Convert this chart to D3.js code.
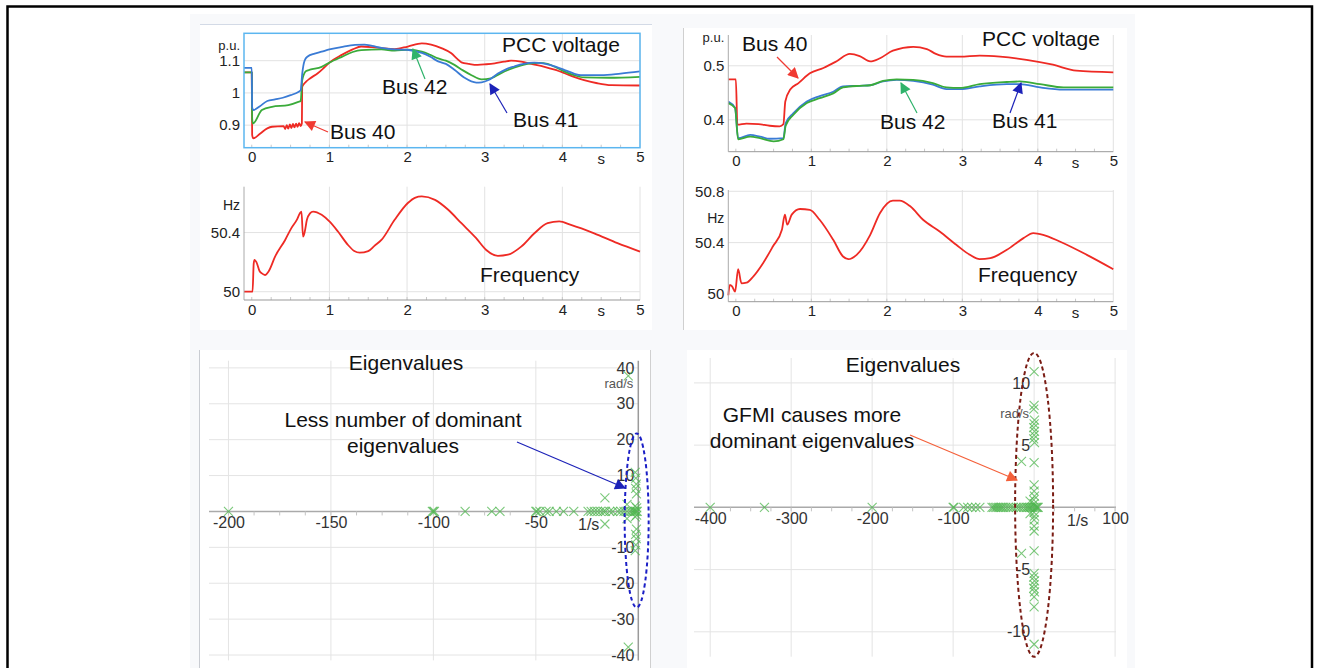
<!DOCTYPE html>
<html>
<head>
<meta charset="utf-8">
<title>PCC voltage, frequency and eigenvalues</title>
<script src="https://d3js.org/d3.v7.min.js"></script>
<style>
  body { margin: 0; background: #fff; }
  text { font-family: "Liberation Sans", Arial, sans-serif; }
</style>
</head>
<body>
<div id="chart"></div>
<script>
// ---- data ----
var timeTicks = [0, 1, 2, 3, 4, 5];

// left case, PCC voltage (p.u.)
var tlBus41 = [[-0.1,1.078],[0,1.078],[0.005,0.955],[0.02,0.947],[0.1,0.958],[0.2,0.975],[0.3,0.98],[0.4,0.985],[0.5,0.993],[0.6,1.003],[0.63,1.008],[0.65,1.06],[0.68,1.1],[0.72,1.113],[0.81,1.122],[0.9,1.128],[1.0,1.135],[1.15,1.142],[1.33,1.149],[1.45,1.15],[1.55,1.146],[1.67,1.14],[1.84,1.135],[2.0,1.134],[2.1,1.13],[2.19,1.124],[2.3,1.112],[2.4,1.098],[2.5,1.09],[2.61,1.072],[2.74,1.047],[2.89,1.032],[2.96,1.033],[3.05,1.04],[3.17,1.06],[3.28,1.074],[3.38,1.082],[3.5,1.09],[3.64,1.094],[3.75,1.092],[3.85,1.086],[4.03,1.071],[4.15,1.06],[4.24,1.055],[4.5,1.055],[4.75,1.06],[5.0,1.067]];
var tlBus42 = [[-0.1,1.064],[0,1.064],[0.005,0.92],[0.015,0.905],[0.13,0.947],[0.26,0.957],[0.47,0.962],[0.6,0.972],[0.63,0.975],[0.65,1.04],[0.7,1.068],[0.75,1.072],[0.9,1.081],[1.0,1.094],[1.16,1.112],[1.3,1.127],[1.41,1.133],[1.67,1.135],[1.84,1.131],[2.01,1.134],[2.19,1.128],[2.3,1.118],[2.4,1.107],[2.5,1.1],[2.61,1.087],[2.72,1.07],[2.83,1.055],[2.96,1.042],[3.08,1.045],[3.2,1.06],[3.3,1.071],[3.45,1.084],[3.6,1.092],[3.7,1.093],[3.81,1.09],[3.92,1.079],[4.03,1.066],[4.15,1.055],[4.28,1.048],[4.6,1.047],[5.0,1.05]];
var tlBus40 = [[-0.1,1.064],[0,1.064],[0.005,0.87],[0.02,0.859],[0.11,0.874],[0.2,0.89],[0.26,0.895],[0.41,0.897],[0.43,0.888],[0.45,0.9],[0.47,0.889],[0.49,0.902],[0.51,0.891],[0.53,0.904],[0.55,0.893],[0.57,0.905],[0.59,0.895],[0.61,0.906],[0.63,0.897],[0.645,0.905],[0.65,1.019],[0.7,1.035],[0.75,1.045],[0.85,1.061],[0.93,1.078],[1.0,1.094],[1.16,1.118],[1.3,1.135],[1.41,1.144],[1.55,1.142],[1.67,1.139],[1.84,1.136],[2.01,1.144],[2.19,1.154],[2.31,1.15],[2.45,1.138],[2.57,1.123],[2.65,1.105],[2.7,1.095],[2.8,1.09],[2.91,1.087],[3.02,1.089],[3.13,1.092],[3.25,1.097],[3.34,1.1],[3.47,1.097],[3.6,1.09],[3.77,1.081],[3.9,1.072],[4.03,1.061],[4.15,1.05],[4.28,1.04],[4.45,1.03],[4.63,1.024],[5.0,1.023]];
var tlVoltTicks = [0.9, 1, 1.1];

// left case, frequency (Hz)
var tlFreq = [[-0.1,50],[0,50],[0.01,50.0],[0.025,50.19],[0.035,50.215],[0.06,50.2],[0.1,50.14],[0.13,50.124],[0.17,50.113],[0.22,50.14],[0.3,50.237],[0.43,50.35],[0.51,50.43],[0.58,50.486],[0.62,50.53],[0.64,50.542],[0.66,50.373],[0.68,50.4],[0.71,50.486],[0.75,50.53],[0.79,50.542],[0.9,50.52],[1.0,50.475],[1.11,50.407],[1.24,50.316],[1.32,50.275],[1.39,50.264],[1.5,50.275],[1.58,50.31],[1.67,50.35],[1.84,50.486],[2.01,50.6],[2.1,50.635],[2.19,50.644],[2.36,50.621],[2.53,50.554],[2.7,50.463],[2.89,50.362],[3.02,50.282],[3.17,50.242],[3.3,50.25],[3.47,50.305],[3.64,50.395],[3.81,50.463],[3.96,50.475],[4.11,50.452],[4.41,50.395],[4.71,50.328],[5.0,50.271]];
var tlFreqTicks = [50, 50.4];

// right case, PCC voltage (p.u.)
var trBus40 = [[-0.1,0.475],[0.0,0.475],[0.02,0.391],[0.14,0.393],[0.3,0.392],[0.45,0.389],[0.58,0.388],[0.63,0.392],[0.655,0.434],[0.72,0.456],[0.83,0.468],[0.98,0.486],[1.16,0.496],[1.33,0.508],[1.51,0.522],[1.64,0.518],[1.78,0.508],[1.91,0.514],[2.08,0.528],[2.35,0.535],[2.53,0.531],[2.65,0.522],[2.79,0.517],[2.97,0.517],[3.23,0.519],[3.5,0.517],[3.85,0.511],[4.2,0.502],[4.51,0.491],[5.0,0.488]];
var trBus41 = [[-0.1,0.434],[-0.01,0.422],[0.03,0.366],[0.19,0.372],[0.32,0.369],[0.45,0.365],[0.63,0.366],[0.66,0.394],[0.76,0.412],[0.94,0.434],[1.11,0.444],[1.29,0.452],[1.42,0.462],[1.64,0.463],[1.78,0.464],[1.95,0.471],[2.13,0.474],[2.35,0.472],[2.61,0.465],[2.79,0.457],[2.97,0.457],[3.23,0.462],[3.59,0.466],[3.76,0.466],[4.03,0.46],[4.34,0.456],[5.0,0.456]];
var trBus42 = [[-0.1,0.431],[-0.01,0.422],[0.03,0.364],[0.19,0.369],[0.32,0.366],[0.5,0.36],[0.63,0.364],[0.66,0.389],[0.76,0.409],[0.94,0.431],[1.11,0.44],[1.29,0.449],[1.42,0.46],[1.64,0.463],[1.78,0.464],[1.95,0.472],[2.13,0.475],[2.35,0.474],[2.61,0.468],[2.79,0.46],[2.97,0.459],[3.23,0.466],[3.59,0.47],[3.76,0.471],[4.03,0.466],[4.34,0.46],[5.0,0.46]];
var trVoltTicks = [0.4, 0.5];

// right case, frequency (Hz)
var trFreq = [[-0.1,49.99],[-0.08,50.07],[-0.05,50.06],[-0.01,50.018],[0.03,50.193],[0.075,50.083],[0.14,50.088],[0.23,50.136],[0.36,50.24],[0.49,50.37],[0.61,50.5],[0.65,50.618],[0.68,50.54],[0.74,50.618],[0.85,50.662],[0.98,50.655],[1.11,50.578],[1.29,50.422],[1.42,50.292],[1.49,50.271],[1.6,50.305],[1.78,50.461],[1.91,50.631],[2.08,50.727],[2.17,50.727],[2.31,50.683],[2.48,50.578],[2.7,50.487],[2.92,50.383],[3.1,50.305],[3.23,50.271],[3.37,50.279],[3.59,50.344],[3.81,50.435],[3.94,50.474],[4.07,50.461],[4.29,50.409],[4.65,50.305],[5.0,50.193]];
var trFreqTicks = [50, 50.4, 50.8];

// eigenvalues [real 1/s, imag rad/s]
var blEig = [[-200,0],[-100.5,0],[-100,0],[-99.5,0],[-84.5,0],[-71.5,0],[-67.5,0],[-50,0],[-49.5,0],[-48,0],[-45,0],[-43.5,0],[-40,0],[-36.5,0],[-31.5,0],[-24.5,0],[-23,0],[-21.5,0],[-20,0],[-18.5,0],[-17,0],[-16,0],[-14,0],[-12.5,0],[-10,0],[-8.5,0],[-7,0],[-5.5,0],[-4,0],[-3,0],[-2,0],[-1.5,0],[-1,0],[-0.5,0],[-16.3,3.8],[-16.3,-3.5],[-4.9,37.8],[-4.9,-37.8],[-1.5,10.9],[-1.5,-10.9],[-1.2,9.3],[-1.2,-9.3],[-1.0,7.6],[-1.0,-7.6],[-1.3,6.4],[-1.3,-6.4],[-0.9,4.9],[-0.9,-4.9],[-1.5,1.5],[-1.5,-1.5],[-0.8,1.0],[-0.8,-1.0],[-5.5,2],[-5.5,-2]];
var blReTicks = [-200, -150, -100, -50];
var blImTicks = [40, 30, 20, 10, -10, -20, -30, -40];

var brEig = [[-400,0],[-333,0],[-200,0],[-100,0],[-99,0],[-87,0],[-82,0],[-77,0],[-72,0],[-67,0],[-52,0],[-50,0],[-48,0],[-46,0],[-44,0],[-42,0],[-40,0],[-38,0],[-35,0],[-32,0],[-29,0],[-26,0],[-22,0],[-19,0],[-16,0],[-13,0],[-10,0],[-8,0],[-6,0],[-4,0],[-2,0],[0,0],[2,0],[3,0],[4,0],[5,0],[-15.6,3.7],[-15.6,-3.7],[0,10.9],[0,-11.0],[0,8.2],[0,-8.0],[-0.5,7.9],[0.5,7.0],[0,6.7],[-0.5,6.4],[0.5,6.1],[0,5.8],[-0.5,5.5],[0.5,5.2],[0,-5.3],[-0.5,-5.6],[0.5,-5.9],[0,-6.2],[-0.5,-6.5],[0.5,-6.8],[0,-7.2],[0,3.6],[0,-3.5],[0,1.8],[0,1.3],[0.5,0.9],[-0.5,0.6],[0,0.3],[0,-0.4],[0.5,-0.7],[0,-1.0],[0,-1.5],[0,-1.9],[-5,0.5],[-5,-0.5]];
var brReTicks = [-400, -300, -200, -100, 100];
var brImTicks = [10, 5, -5, -10];

var font = "'Liberation Sans', Arial, sans-serif";
// plain hyphen minus, as in the picture
var plain = function(d) { return String(d); };

var svg = d3.select("#chart")
  .append("svg")
    .attr("width", 1320)
    .attr("height", 668);

// outer frame and backdrop
svg.append("rect").attr("x", 0).attr("y", 0).attr("width", 1320).attr("height", 668).attr("fill", "#fff");
svg.append("rect").attr("x", 190).attr("y", 14).attr("width", 945).attr("height", 654).attr("fill", "#f8f9fb");
svg.append("rect").attr("x", 7.5).attr("y", 6.5).attr("width", 1304.5).attr("height", 700)
  .attr("fill", "none").attr("stroke", "#000").attr("stroke-width", 2.5);

// white panels
[[200, 24, 452, 306], [683, 28, 444, 302], [199, 350, 452, 318], [687, 350, 440, 318]].forEach(function(p) {
  svg.append("rect").attr("x", p[0]).attr("y", p[1]).attr("width", p[2]).attr("height", p[3]).attr("fill", "#fff");
});
svg.append("line").attr("x1", 200).attr("x2", 652).attr("y1", 24.5).attr("y2", 24.5).attr("stroke", "#d3dae6");
svg.append("line").attr("x1", 683.5).attr("x2", 683.5).attr("y1", 28).attr("y2", 330).attr("stroke", "#d0d0d0");
svg.append("line").attr("x1", 199.5).attr("x2", 199.5).attr("y1", 350).attr("y2", 668).attr("stroke", "#c9ccd2");
svg.append("line").attr("x1", 650.5).attr("x2", 650.5).attr("y1", 350).attr("y2", 668).attr("stroke", "#d0d0d0");

// arrow heads
var defs = svg.append("defs");
function arrowHead(id, color) {
  defs.append("marker")
      .attr("id", id)
      .attr("viewBox", "0 0 10 10")
      .attr("refX", 9).attr("refY", 5)
      .attr("markerUnits", "userSpaceOnUse")
      .attr("markerWidth", 12).attr("markerHeight", 11)
      .attr("orient", "auto")
    .append("path")
      .attr("d", "M0,0 L10,5 L0,10 z")
      .attr("fill", color);
}
arrowHead("aRed", "#f03a32");
arrowHead("aGreen", "#2fb36b");
arrowHead("aBlue", "#1c22b8");
arrowHead("aOrange", "#f4603a");

function arrow(x1, y1, x2, y2, color, id) {
  svg.append("line")
    .attr("x1", x1).attr("y1", y1).attr("x2", x2).attr("y2", y2)
    .attr("stroke", color).attr("stroke-width", 1.2)
    .attr("marker-end", "url(#" + id + ")");
}

function label(x, y, txt, size, color, anchor) {
  return svg.append("text")
    .attr("x", x).attr("y", y)
    .attr("font-size", size + "px")
    .attr("fill", color || "#111")
    .attr("text-anchor", anchor || "start")
    .text(txt);
}

// time-domain panel: voltage or frequency traces
function timePanel(o) {
  var x = d3.scaleLinear().domain([-0.1, 5]).range([o.left, o.right]);
  var y = d3.scaleLinear().domain(o.yDomain).range([o.bottom, o.top]);
  var g = svg.append("g");

  // grid
  g.selectAll(".vg").data(timeTicks.filter(function(d) { return d > 0; })).enter()
    .append("line")
      .attr("x1", function(d) { return x(d); }).attr("x2", function(d) { return x(d); })
      .attr("y1", o.top).attr("y2", o.bottom)
      .attr("stroke", "#e2e2e2");
  g.selectAll(".hg").data(o.yTicks).enter()
    .append("line")
      .attr("x1", o.left).attr("x2", o.right)
      .attr("y1", function(d) { return y(d); }).attr("y2", function(d) { return y(d); })
      .attr("stroke", "#e2e2e2");

  // minor ticks on the time axis
  g.selectAll(".mt").data(d3.range(0, 5, 0.25)).enter()
    .append("line")
      .attr("x1", function(d) { return x(d); }).attr("x2", function(d) { return x(d); })
      .attr("y1", o.bottom).attr("y2", o.bottom - 3)
      .attr("stroke", "#c8c8c8");

  // traces
  var line = d3.line()
    .curve(d3.curveMonotoneX)
    .x(function(d) { return x(d[0]); })
    .y(function(d) { return y(d[1]); });
  o.series.forEach(function(s) {
    g.append("path")
      .datum(s.data)
      .attr("d", line)
      .attr("fill", "none")
      .attr("stroke", s.color)
      .attr("stroke-width", 1.8)
      .attr("stroke-linejoin", "round");
  });

  // frame
  if (o.box) {
    g.append("rect")
      .attr("x", o.left).attr("y", o.top)
      .attr("width", o.right - o.left).attr("height", o.bottom - o.top)
      .attr("fill", "none").attr("stroke", "#5cb6f0").attr("stroke-width", 1.5);
  } else {
    g.append("line").attr("x1", o.left).attr("x2", o.left).attr("y1", o.top).attr("y2", o.bottom).attr("stroke", "#aaa");
    g.append("line").attr("x1", o.left).attr("x2", o.right).attr("y1", o.bottom).attr("y2", o.bottom).attr("stroke", "#999");
  }

  // axes labels
  var xa = g.append("g")
    .attr("transform", "translate(0," + o.bottom + ")")
    .call(d3.axisBottom(x).tickValues(timeTicks).tickSize(0).tickPadding(4).tickFormat(plain));
  var ya = g.append("g")
    .attr("transform", "translate(" + (o.left - 1) + ",0)")
    .call(d3.axisLeft(y).tickValues(o.yTicks).tickSize(0).tickPadding(3).tickFormat(plain));
  [xa, ya].forEach(function(a) {
    a.select(".domain").remove();
    a.selectAll("text").attr("font-size", "15px").attr("fill", "#222").attr("font-family", font);
  });
  g.append("text")
    .attr("x", x(4.5)).attr("y", o.bottom + 16)
    .attr("text-anchor", "middle").attr("font-size", "15px").attr("fill", "#222")
    .text("s");
  g.append("text")
    .attr("x", o.left - 4).attr("y", o.unitY)
    .attr("text-anchor", "end").attr("font-size", o.unitSize + "px").attr("fill", "#222")
    .text(o.unit);
  return {x: x, y: y};
}

timePanel({left: 244, right: 640, top: 33.3, bottom: 147.7, yDomain: [0.83, 1.185], yTicks: tlVoltTicks, box: true,
  unit: "p.u.", unitY: 50, unitSize: 13,
  series: [{data: tlBus40, color: "#ee2a24"}, {data: tlBus42, color: "#3aab3a"}, {data: tlBus41, color: "#3a7bd5"}]});
timePanel({left: 244, right: 640, top: 186.7, bottom: 300, yDomain: [49.944, 50.71], yTicks: tlFreqTicks, box: false,
  unit: "Hz", unitY: 210, unitSize: 14,
  series: [{data: tlFreq, color: "#ee2a24"}]});
timePanel({left: 728.3, right: 1113.3, top: 35, bottom: 151.7, yDomain: [0.341, 0.557], yTicks: trVoltTicks, box: false,
  unit: "p.u.", unitY: 42, unitSize: 13,
  series: [{data: trBus40, color: "#ee2a24"}, {data: trBus41, color: "#3a7bd5"}, {data: trBus42, color: "#3aab3a"}]});
timePanel({left: 728.3, right: 1113.3, top: 190, bottom: 301.7, yDomain: [49.94, 50.81], yTicks: trFreqTicks, box: false,
  unit: "Hz", unitY: 223, unitSize: 14,
  series: [{data: trFreq, color: "#ee2a24"}]});

// annotations on the time panels
label(502, 52, "PCC voltage", 21);
label(382, 94, "Bus 42", 21);
label(513, 127, "Bus 41", 21);
label(330, 139, "Bus 40", 21);
arrow(425, 79, 413, 49, "#2fb36b", "aGreen");
arrow(507, 113, 490, 84, "#1c22b8", "aBlue");
arrow(328, 132, 305, 122, "#f03a32", "aRed");
label(480, 282, "Frequency", 21);

label(982, 46, "PCC voltage", 21);
label(742, 51, "Bus 40", 21);
label(880, 129, "Bus 42", 21);
label(992, 128, "Bus 41", 21);
arrow(777, 57, 798, 78, "#f03a32", "aRed");
arrow(917, 113, 901, 83, "#2fb36b", "aGreen");
arrow(1010, 113, 1021, 83, "#1c22b8", "aBlue");
label(978, 282, "Frequency", 21);

// eigenvalue panel
function eigPanel(o) {
  var x = d3.scaleLinear().domain(o.xDomain).range([o.left, o.right]);
  var y = d3.scaleLinear().domain(o.yDomain).range([o.bottom, o.top]);
  var g = svg.append("g");

  g.selectAll(".vg").data(o.xGrid).enter()
    .append("line")
      .attr("x1", function(d) { return x(d); }).attr("x2", function(d) { return x(d); })
      .attr("y1", o.top).attr("y2", o.bottom)
      .attr("stroke", "#e4e4e4");
  g.selectAll(".hg").data(o.yTicks).enter()
    .append("line")
      .attr("x1", o.left).attr("x2", o.gridRight)
      .attr("y1", function(d) { return y(d); }).attr("y2", function(d) { return y(d); })
      .attr("stroke", "#e4e4e4");

  // real axis with minor ticks
  g.append("line").attr("x1", o.left).attr("x2", o.gridRight).attr("y1", y(0)).attr("y2", y(0))
    .attr("stroke", "#aaa").attr("stroke-width", 1.5);
  g.selectAll(".mt").data(d3.range(o.xDomain[0] - o.xDomain[0] % o.minor, o.xDomain[1], o.minor)).enter()
    .append("line")
      .attr("x1", function(d) { return x(d); }).attr("x2", function(d) { return x(d); })
      .attr("y1", y(0)).attr("y2", y(0) + 4)
      .attr("stroke", "#c4c4c4");
  if (o.imAxis) {
    g.append("line").attr("x1", x(0)).attr("x2", x(0)).attr("y1", o.top).attr("y2", o.bottom)
      .attr("stroke", "#9a9a9a").attr("stroke-width", 1.5);
  }

  var xa = g.append("g")
    .attr("transform", "translate(0," + y(0) + ")")
    .call(d3.axisBottom(x).tickValues(o.xTicks).tickSize(0).tickPadding(5).tickFormat(plain));
  var ya = g.append("g")
    .attr("transform", "translate(" + (x(0) - 2) + ",0)")
    .call(d3.axisLeft(y).tickValues(o.yTicks).tickSize(0).tickPadding(2).tickFormat(plain));
  [xa, ya].forEach(function(a) {
    a.select(".domain").remove();
    a.selectAll("text").attr("font-size", "16px").attr("fill", "#333").attr("font-family", font);
  });
  g.append("text").attr("x", o.unitX).attr("y", y(0) + 19).attr("font-size", "16px").attr("fill", "#333").text("1/s");
  g.append("text").attr("x", x(0) - 5).attr("y", o.radY).attr("text-anchor", "end")
    .attr("font-size", "13px").attr("fill", "#555").text("rad/s");

  // eigenvalue crosses
  var s = 4.5;
  g.selectAll(".ev").data(o.data).enter()
    .append("path")
      .attr("transform", function(d) { return "translate(" + x(d[0]) + "," + y(d[1]) + ")"; })
      .attr("d", "M" + (-s) + "," + (-s) + "L" + s + "," + s + "M" + (-s) + "," + s + "L" + s + "," + (-s))
      .attr("fill", "none")
      .attr("stroke", "#4fb54f")
      .attr("stroke-opacity", 0.75)
      .attr("stroke-width", 1.1);
  return {x: x, y: y};
}

var bl = eigPanel({left: 209, right: 638.3, gridRight: 638.3, top: 360.7, bottom: 660.4,
  xDomain: [-209.5, 0], yDomain: [-41.5, 42], xGrid: blReTicks, xTicks: blReTicks, yTicks: blImTicks,
  minor: 12.5, imAxis: true, unitX: 578, radY: 388, data: blEig});
var br = eigPanel({left: 694, right: 1115.9, gridRight: 1116, top: 358, bottom: 656.7,
  xDomain: [-420, 101], yDomain: [-12, 12], xGrid: [-400, -300, -200, -100, 0, 100], xTicks: brReTicks, yTicks: brImTicks,
  minor: 25, imAxis: false, unitX: 1067, radY: 418, data: brEig});

// ellipses around the dominant eigenvalues
svg.append("ellipse")
  .attr("cx", bl.x(-0.8)).attr("cy", bl.y(-2.5)).attr("rx", 12).attr("ry", 87)
  .attr("fill", "none").attr("stroke", "#1b1fc6").attr("stroke-width", 2).attr("stroke-dasharray", "4,3");
svg.append("ellipse")
  .attr("cx", br.x(0)).attr("cy", br.y(0.2)).attr("rx", 19).attr("ry", 152)
  .attr("fill", "none").attr("stroke", "#7a1c14").attr("stroke-width", 2).attr("stroke-dasharray", "4,3");

label(406, 370, "Eigenvalues", 21, "#111", "middle");
label(403, 427, "Less number of dominant", 21, "#111", "middle");
label(403, 453, "eigenvalues", 21, "#111", "middle");
arrow(517, 442, 625, 488, "#1c22b8", "aBlue");

label(903, 372, "Eigenvalues", 21, "#111", "middle");
label(812, 422, "GFMI causes more", 21, "#111", "middle");
label(812, 448, "dominant eigenvalues", 21, "#111", "middle");
arrow(910, 435, 1017, 480, "#f4603a", "aOrange");
</script>
</body>
</html>
